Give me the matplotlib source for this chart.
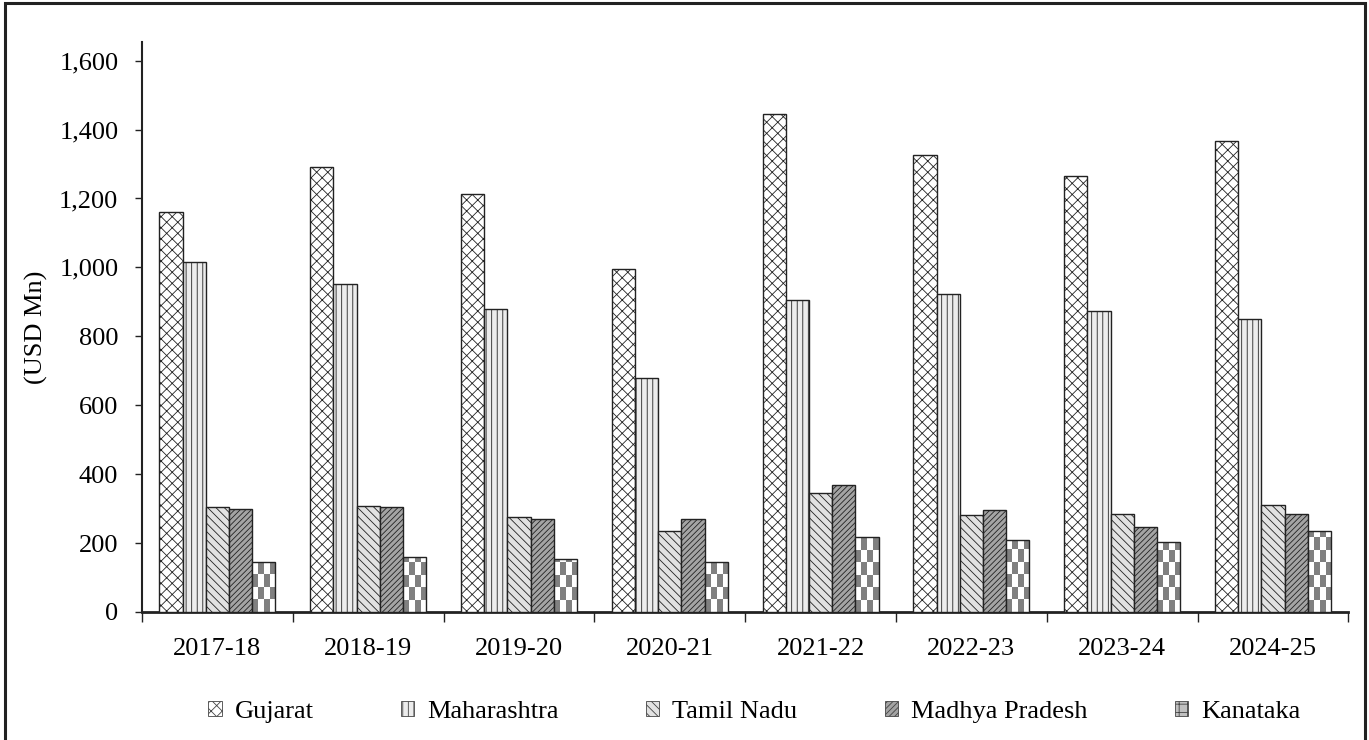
import numpy as np
import matplotlib.pyplot as plt
from matplotlib.patches import Patch, Rectangle

years = ["2017-18", "2018-19", "2019-20", "2020-21", "2021-22", "2022-23", "2023-24", "2024-25"]
gujarat = [1162, 1290, 1214, 996, 1446, 1325, 1264, 1368]
maharashtra = [1017, 952, 879, 680, 906, 923, 874, 851]
tamil_nadu = [304, 308, 275, 236, 346, 280, 285, 311]
madhya_pradesh = [298, 304, 270, 269, 369, 297, 247, 284]
karnataka = [146, 159, 153, 146, 219, 209, 202, 234]
states = ["Gujarat", "Maharashtra", "Tamil Nadu", "Madhya Pradesh", "Kanataka"]
yticks = [0, 200, 400, 600, 800, 1000, 1200, 1400, 1600]

plt.rcParams['font.family'] = ['Liberation Serif', 'DejaVu Serif']
plt.rcParams['hatch.linewidth'] = 0.6

fig = plt.figure(figsize=(13.69, 7.40), dpi=100)
ax = fig.add_axes([0.1037, 0.173, 0.8813, 0.7707])

# face, hatch, hatch colour per series
styles = [
    ("white", "xxx", "#222222"),
    ("#ececec", "|||", "#9a9a9a"),
    ("#e2e2e2", "\\\\\\\\", "#a8a8a8"),
    ("#a4a4a4", "//////", "#8a8a8a"),
    ("white", "", "#808080"),
]


def hbar(pos, vals, **kw):
    try:
        return ax.bar(pos, vals, **kw)
    except (TypeError, AttributeError):
        kw.pop("hatchcolor", None)
        return ax.bar(pos, vals, **kw)


series = [gujarat, maharashtra, tamil_nadu, madhya_pradesh, karnataka]
x = np.arange(len(years))
w = 0.154
ax.set_xlim(-0.5, len(years) - 0.5)
ax.set_ylim(0, 1655)

for k, vals in enumerate(series):
    pos = x + (k - 2) * w
    face, hatch, hc = styles[k]
    if k < 4:
        hbar(pos, vals, width=w, facecolor=face, edgecolor="#222222",
             hatch=hatch, hatchcolor=hc, linewidth=1.0, zorder=3)
    else:
        bars = ax.bar(pos, vals, width=w, facecolor="none", edgecolor="#222222",
                      linewidth=1.0, zorder=4)
        cell_h = 36.0
        for b, v in zip(bars, vals):
            nrows = max(1, int(np.ceil(v / cell_h)))
            board = (np.add.outer(np.arange(nrows), np.arange(4)) % 2).astype(float)
            x0 = b.get_x()
            im = ax.imshow(board, cmap="gray", vmin=-1.0, vmax=1.0,
                           extent=(x0, x0 + w, 0, nrows * cell_h), origin="lower",
                           aspect="auto", interpolation="nearest", zorder=3)
            im.set_clip_path(b)

ax.set_xlim(-0.5, len(years) - 0.5)
ax.set_ylim(0, 1655)
ax.set_aspect("auto")

ax.spines["top"].set_visible(False)
ax.spines["right"].set_visible(False)
ax.spines["left"].set_color("#222222")
ax.spines["bottom"].set_color("#222222")
ax.spines["left"].set_linewidth(1.5)
ax.spines["bottom"].set_linewidth(2)

ax.set_yticks(yticks)
ax.set_yticklabels([f"{v:,}" for v in yticks], fontsize=19)
ax.tick_params(axis="y", direction="out", length=5, width=1, color="#222222", pad=12)

ax.set_xticks(np.arange(len(years) + 1) - 0.5)
ax.set_xticklabels([])
ax.tick_params(axis="x", which="major", direction="out", length=7, width=1, color="#222222")
ax.set_xticks(x, minor=True)
ax.set_xticklabels(years, minor=True, fontsize=19)
ax.tick_params(axis="x", which="minor", length=0, pad=19)

ax.set_ylabel("(USD Mn)", fontsize=19, labelpad=8)

handles = []
for k in range(5):
    face, hatch, hc = styles[k]
    if k == 4:
        handles.append(Patch(facecolor="#c0c0c0", edgecolor="#444444", hatch="++", linewidth=0.6))
    else:
        handles.append(Patch(facecolor=face, edgecolor="#444444", hatch=hatch, linewidth=0.6))
fig.legend(handles, states, loc="center", bbox_to_anchor=(0.551, 0.038), ncol=5,
           frameon=False, fontsize=19, handlelength=0.5, handleheight=0.5,
           handletextpad=0.5, columnspacing=3.3)

fig.add_artist(Rectangle((0.004, -0.01), 0.993, 1.006, transform=fig.transFigure,
                         fill=False, edgecolor="#222222", linewidth=2.2))

fig.savefig("out.png", dpi=100)
